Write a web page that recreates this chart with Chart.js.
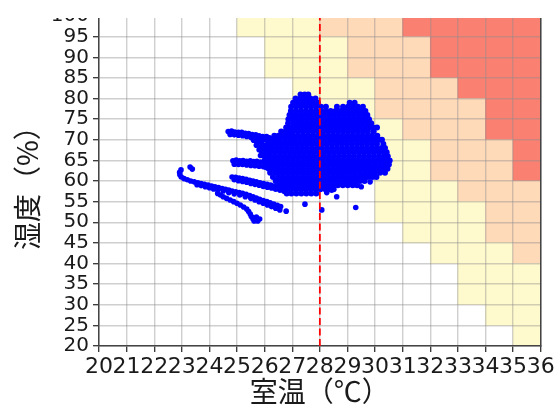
<!DOCTYPE html>
<html>
<head>
<meta charset="utf-8">
<script src="https://cdn.jsdelivr.net/npm/chart.js@4/dist/chart.umd.min.js"></script>
<style>
  html, body { margin: 0; padding: 0; background: #ffffff; }
  #frame { position: absolute; left: 0; top: 18px; width: 557px; height: 387px; overflow: hidden; }
  #frame canvas { position: absolute; left: 0; top: -18px; }
</style>
</head>
<body>
<div id="frame">
  <canvas id="base" width="557" height="405"></canvas>
  <canvas id="marks" width="557" height="405"></canvas>
</div>
<script>
// ---- axes ----
const tempTicks = [20, 21, 22, 23, 24, 25, 26, 27, 28, 29, 30, 31, 32, 33, 34, 35, 36];
const humidityTicks = [20, 25, 30, 35, 40, 45, 50, 55, 60, 65, 70, 75, 80, 85, 90, 95, 100];
const referenceTemp = 28;

// ---- comfort zone grid: 1℃ × 5% cells ----
const tempColumns = [20, 21, 22, 23, 24, 25, 26, 27, 28, 29, 30, 31, 32, 33, 34, 35];
const humidityBands = [95, 90, 85, 80, 75, 70, 65, 60, 55, 50, 45, 40, 35, 30, 25, 20];
// 0 = none, 1 = caution, 2 = warning, 3 = danger (one row per humidity band)
const comfortLevels = [
  [0,0,0,0,0,1,1,1,2,2,2,3,3,3,3,3],
  [0,0,0,0,0,0,1,1,1,2,2,2,3,3,3,3],
  [0,0,0,0,0,0,1,1,1,2,2,2,3,3,3,3],
  [0,0,0,0,0,0,0,1,1,1,2,2,2,3,3,3],
  [0,0,0,0,0,0,0,1,1,1,2,2,2,2,3,3],
  [0,0,0,0,0,0,0,0,1,1,1,2,2,2,3,3],
  [0,0,0,0,0,0,0,0,0,1,1,1,2,2,2,3],
  [0,0,0,0,0,0,0,0,0,0,1,1,2,2,2,3],
  [0,0,0,0,0,0,0,0,0,0,1,1,1,2,2,2],
  [0,0,0,0,0,0,0,0,0,0,1,1,1,1,2,2],
  [0,0,0,0,0,0,0,0,0,0,0,1,1,1,2,2],
  [0,0,0,0,0,0,0,0,0,0,0,0,1,1,1,2],
  [0,0,0,0,0,0,0,0,0,0,0,0,0,1,1,1],
  [0,0,0,0,0,0,0,0,0,0,0,0,0,1,1,1],
  [0,0,0,0,0,0,0,0,0,0,0,0,0,0,1,1],
  [0,0,0,0,0,0,0,0,0,0,0,0,0,0,0,1]
];
const levelColors = ['rgba(255,255,255,0)', '#FFFACD', '#FFDAB9', '#FA8072'];

// ---- measurements: room temperature (℃) vs humidity (%) ----
// dense daytime cluster, one list of temperatures per humidity reading
const clusterRows = [
  [81, [27.3, 27.45, 27.58]],
  [80, [27.12, 27.3, 27.48, 27.66, 27.84]],
  [79, [27.03, 27.21, 27.39, 27.57, 27.75, 27.93, 29.08, 29.26]],
  [78, [26.96, 27.14, 27.32, 27.5, 27.68, 27.86, 28.04, 28.22, 28.62, 28.84, 29.02, 29.2, 29.38, 29.56]],
  [77, [26.95, 27.13, 27.31, 27.49, 27.67, 27.85, 28.03, 28.21, 28.39, 28.57, 28.75, 28.93, 29.11, 29.29, 29.47, 29.65]],
  [76, [26.9, 27.08, 27.26, 27.44, 27.62, 27.8, 27.98, 28.16, 28.34, 28.52, 28.7, 28.88, 29.06, 29.24, 29.42, 29.6, 29.72]],
  [75, [26.86, 27.0, 27.17, 27.35, 27.53, 27.71, 27.89, 28.07, 28.25, 28.43, 28.61, 28.79, 28.97, 29.15, 29.33, 29.51, 29.69, 29.78]],
  [74, [26.85, 27.05, 27.23, 27.41, 27.59, 27.77, 27.95, 28.13, 28.31, 28.49, 28.67, 28.85, 29.03, 29.21, 29.39, 29.57, 29.75, 29.86]],
  [73, [26.78, 26.94, 27.12, 27.3, 27.48, 27.66, 27.84, 28.02, 28.2, 28.38, 28.56, 28.74, 28.92, 29.1, 29.28, 29.46, 29.64, 29.82, 29.93, 30.07]],
  [72, [26.6, 26.76, 26.92, 27.04, 27.22, 27.4, 27.58, 27.76, 27.94, 28.12, 28.3, 28.48, 28.66, 28.84, 29.02, 29.2, 29.38, 29.56, 29.74, 29.95]],
  [71, [26.35, 26.5, 26.65, 26.83, 27.01, 27.19, 27.37, 27.55, 27.73, 27.91, 28.09, 28.27, 28.45, 28.63, 28.81, 28.99, 29.17, 29.35, 29.53, 29.71, 29.89, 30.08]],
  [70, [26.22, 26.38, 26.56, 26.74, 26.92, 27.1, 27.28, 27.46, 27.64, 27.82, 28.0, 28.18, 28.36, 28.54, 28.72, 28.9, 29.08, 29.26, 29.44, 29.62, 29.8, 29.98, 30.16, 30.25]],
  [69, [26.15, 26.3, 26.47, 26.65, 26.83, 27.01, 27.19, 27.37, 27.55, 27.73, 27.91, 28.09, 28.27, 28.45, 28.63, 28.81, 28.99, 29.17, 29.35, 29.53, 29.71, 29.89, 30.07, 30.3]],
  [68, [26.1, 26.28, 26.46, 26.64, 26.82, 27.0, 27.18, 27.36, 27.54, 27.72, 27.9, 28.08, 28.26, 28.44, 28.62, 28.8, 28.98, 29.16, 29.34, 29.52, 29.7, 29.88, 30.06, 30.24, 30.36]],
  [67, [26.05, 26.2, 26.37, 26.55, 26.73, 26.91, 27.09, 27.27, 27.45, 27.63, 27.81, 27.99, 28.17, 28.35, 28.53, 28.71, 28.89, 29.07, 29.25, 29.43, 29.61, 29.79, 29.97, 30.15, 30.33, 30.42]],
  [66, [26.0, 26.18, 26.36, 26.54, 26.72, 26.9, 27.08, 27.26, 27.44, 27.62, 27.8, 27.98, 28.16, 28.34, 28.52, 28.7, 28.88, 29.06, 29.24, 29.42, 29.6, 29.78, 29.96, 30.14, 30.32, 30.46]],
  [65, [26.0, 26.15, 26.31, 26.49, 26.67, 26.85, 27.03, 27.21, 27.39, 27.57, 27.75, 27.93, 28.11, 28.29, 28.47, 28.65, 28.83, 29.01, 29.19, 29.37, 29.55, 29.73, 29.91, 30.09, 30.27, 30.45, 30.53]],
  [64, [26.05, 26.22, 26.4, 26.58, 26.76, 26.94, 27.12, 27.3, 27.48, 27.66, 27.84, 28.02, 28.2, 28.38, 28.56, 28.74, 28.92, 29.1, 29.28, 29.46, 29.64, 29.82, 30.0, 30.18, 30.36, 30.5]],
  [63, [26.15, 26.31, 26.49, 26.67, 26.85, 27.03, 27.21, 27.39, 27.57, 27.75, 27.93, 28.11, 28.29, 28.47, 28.65, 28.83, 29.01, 29.19, 29.37, 29.55, 29.73, 29.91, 30.09, 30.27, 30.45]],
  [62, [26.2, 26.4, 26.58, 26.76, 26.94, 27.12, 27.3, 27.48, 27.66, 27.84, 28.02, 28.2, 28.38, 28.56, 28.74, 28.92, 29.1, 29.28, 29.46, 29.64, 29.82, 30.0, 30.18, 30.36]],
  [61, [26.3, 26.49, 26.67, 26.85, 27.03, 27.21, 27.39, 27.57, 27.75, 27.93, 28.11, 28.29, 28.47, 28.65, 28.83, 29.01, 29.19, 29.37, 29.55, 29.73, 29.91, 30.05]],
  [60, [26.4, 26.58, 26.76, 26.94, 27.12, 27.3, 27.48, 27.66, 27.84, 28.02, 28.2, 28.38, 28.56, 28.74, 28.92, 29.1, 29.28, 29.46, 29.62]],
  [59, [26.5, 26.67, 26.85, 27.03, 27.21, 27.39, 27.57, 27.75, 27.93, 28.11, 28.29, 28.47, 28.65, 28.83, 29.01, 29.19, 29.35]],
  [58, [26.6, 26.76, 26.94, 27.12, 27.3, 27.48, 27.66, 27.84, 28.02, 28.2, 28.38, 28.5]],
  [57, [26.8, 26.97, 27.15, 27.33, 27.51, 27.69, 27.87]]
];

// cooler evening runs trailing off to the left
const runUpper = [
  [24.68, 72.0], [24.8, 72.1], [24.92, 71.9], [25.05, 71.8], [25.17, 71.8], [25.3, 71.6], [25.42, 71.5],
  [25.55, 71.3], [25.68, 71.2], [25.8, 71.0], [25.93, 70.8], [26.07, 70.8], [26.18, 70.5], [26.3, 70.3],
  [24.75, 71.3], [24.9, 71.2], [25.05, 71.1], [25.2, 71.0], [25.35, 70.8], [25.5, 70.6], [25.65, 70.4],
  [25.8, 70.2], [25.95, 70.0], [26.1, 69.7], [25.6, 69.9], [25.75, 69.4], [25.9, 69.1], [25.7, 68.7],
  [25.85, 68.3], [26.0, 68.6], [25.8, 67.6], [25.95, 67.7], [25.9, 66.9], [25.85, 66.2]
];
const runMiddle = [
  [24.85, 64.9], [24.97, 65.1], [25.1, 64.9], [25.22, 65.0], [25.35, 64.8], [25.48, 64.9], [25.6, 64.7],
  [25.72, 64.8], [25.85, 64.6], [25.97, 64.6], [24.9, 64.1], [25.05, 64.0], [25.2, 64.0], [25.35, 63.9],
  [25.5, 63.8], [25.65, 63.7], [25.8, 63.6], [25.95, 63.5], [26.05, 63.3]
];
const runLower = [
  [24.82, 61.0], [24.95, 60.9], [25.08, 60.7], [25.2, 60.6], [25.33, 60.4], [25.46, 60.2], [25.58, 60.0],
  [25.7, 59.8], [25.83, 59.6], [25.96, 59.4], [26.09, 59.2], [26.22, 59.0], [26.35, 58.8], [26.48, 58.6],
  [26.6, 58.4], [26.73, 58.2], [24.9, 60.3], [25.05, 60.1], [25.2, 59.9], [25.35, 59.7], [25.5, 59.4],
  [25.65, 59.2], [25.8, 59.0], [25.95, 58.7], [26.1, 58.5], [26.25, 58.3], [26.4, 58.0], [26.55, 57.8], [26.7, 57.5]
];
const runLong = [
  [22.97, 62.7], [22.92, 62.1], [22.93, 61.5], [22.98, 61.0], [23.08, 60.6], [23.3, 63.4], [23.38, 62.9],
  [23.2, 60.3], [23.32, 60.0], [23.45, 59.8], [23.58, 59.6], [23.7, 59.4], [23.82, 59.2], [23.95, 59.0],
  [24.08, 58.8], [24.2, 58.6], [24.33, 58.4], [24.46, 58.2], [24.58, 58.0], [24.7, 57.8], [24.82, 57.6],
  [24.95, 57.4], [25.08, 57.2], [25.2, 57.0], [25.33, 56.8], [25.46, 56.5], [25.58, 56.2], [25.7, 55.9],
  [25.82, 55.6], [25.95, 55.3], [26.08, 55.0], [26.2, 54.7], [26.33, 54.4], [26.46, 54.1], [26.58, 53.8],
  [23.55, 59.1], [23.7, 58.9], [23.85, 58.6], [24.0, 58.4], [24.15, 58.1], [24.3, 57.9], [24.5, 57.6],
  [24.7, 57.2], [24.9, 56.9], [25.1, 56.6], [25.3, 56.2], [25.5, 55.8], [25.65, 55.4], [25.8, 55.0],
  [25.95, 54.6], [26.1, 54.2], [26.25, 53.8], [26.4, 53.4], [26.55, 53.0]
];
const runTail = [
  [24.3, 57.0], [24.4, 56.6], [24.5, 56.2], [24.62, 55.8], [24.75, 55.4], [24.88, 55.0], [25.0, 54.6],
  [25.12, 54.2], [25.24, 53.7], [25.35, 53.2], [25.42, 52.6], [25.48, 52.0], [25.52, 51.4], [25.58, 50.8],
  [25.62, 50.3], [25.75, 50.3], [25.82, 50.8], [25.7, 51.3]
];
const strayReadings = [
  [27.46, 54.4], [28.07, 53.0], [28.61, 56.2], [29.3, 53.6], [26.78, 52.7], [28.25, 57.2],
  [28.43, 57.8], [29.5, 58.6], [29.82, 59.8]
];

// ---- build datasets ----
const toPoints = list => list.map(([x, y]) => ({ x, y }));
const clusterPoints = clusterRows.flatMap(([y, xs]) => xs.map(x => ({ x, y })));
const runPoints = toPoints([...runUpper, ...runMiddle, ...runLower, ...runLong, ...runTail, ...strayReadings]);

const cellData = [];
const cellColors = [];
humidityBands.forEach((h, r) => {
  tempColumns.forEach((t, c) => {
    cellData.push({ x: t + 0.5, y: [h, h + 5] });
    cellColors.push(levelColors[comfortLevels[r][c]]);
  });
});

// ---- shared axis layout so both layers line up ----
function buildScales(visible) {
  const ink = c => (visible ? c : 'rgba(0,0,0,0)');
  const gridStyle = { display: visible, offset: false, z: 1, color: 'rgba(140,140,140,0.42)', lineWidth: 1.4,
                      tickLength: 6, tickColor: '#333333', tickWidth: 1.3 };
  return {
    x: {
      type: 'linear', min: 20, max: 36, offset: false,
      afterBuildTicks: s => { s.ticks = tempTicks.map(v => ({ value: v })); },
      afterFit: s => { s.height = 59; },
      ticks: { autoSkip: false, maxRotation: 0, minRotation: 0, padding: 2,
               color: ink('#1a1a1a'), font: { family: 'DejaVu Sans', size: 22 } },
      grid: gridStyle,
      border: { display: visible, z: 2, color: '#444444', width: 1.5 },
      title: { display: true, text: '室温（℃）', color: ink('#1a1a1a'),
               font: { family: 'Noto Sans CJK JP', size: 28, lineHeight: 1 }, padding: { top: 0, bottom: 0 } }
    },
    y: {
      type: 'linear', min: 20, max: 100, offset: false,
      afterBuildTicks: s => { s.ticks = humidityTicks.map(v => ({ value: v })); },
      afterFit: s => { s.width = 99; },
      ticks: { autoSkip: false, padding: 4, color: ink('#1a1a1a'), font: { family: 'DejaVu Sans', size: 20 } },
      grid: gridStyle,
      border: { display: visible, z: 2, color: '#444444', width: 1.5 },
      title: { display: true, text: '湿度（%）', color: ink('#1a1a1a'),
               font: { family: 'Noto Sans CJK JP', size: 28, lineHeight: 1 }, padding: { top: 13.5, bottom: 0 } }
    },
    yRight: {
      type: 'linear', position: 'right', min: 20, max: 100,
      afterFit: s => { s.width = 16.3; },
      ticks: { display: false },
      grid: { display: false, drawTicks: false },
      border: { display: visible, z: 2, color: '#444444', width: 1.5 }
    }
  };
}

const common = {
  responsive: false,
  animation: false,
  devicePixelRatio: 1,
  layout: { padding: { top: 16.1, left: 0, right: 0, bottom: 0 } },
  plugins: { legend: { display: false }, tooltip: { enabled: false } },
  events: []
};

// background layer: comfort cells with grid and axes
new Chart(document.getElementById('base'), {
  type: 'bar',
  data: {
    datasets: [{
      data: cellData,
      backgroundColor: cellColors,
      borderWidth: 0,
      barPercentage: 1,
      categoryPercentage: 1
    }]
  },
  options: Object.assign({}, common, { scales: buildScales(true) })
});

// foreground layer: reference line and measurements
new Chart(document.getElementById('marks'), {
  type: 'scatter',
  data: {
    datasets: [
      {
        data: [{ x: referenceTemp, y: 20 }, { x: referenceTemp, y: 100 }],
        showLine: true, borderColor: '#ff0000', borderWidth: 1.8, borderDash: [7, 3.5],
        pointRadius: 0
      },
      {
        data: runPoints, pointRadius: 2.8, pointBorderWidth: 0,
        backgroundColor: '#0000ff', borderColor: '#0000ff'
      },
      {
        data: clusterPoints, pointRadius: 3, pointBorderWidth: 0,
        backgroundColor: '#0000ff', borderColor: '#0000ff'
      }
    ]
  },
  options: Object.assign({}, common, { scales: buildScales(false) })
});
</script>
</body>
</html>
